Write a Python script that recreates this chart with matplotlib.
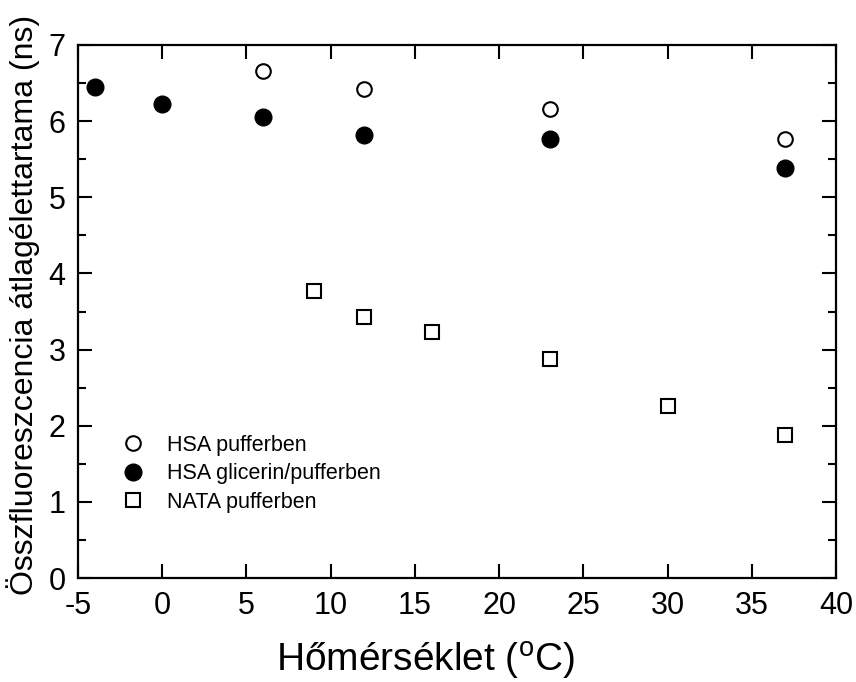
import matplotlib
matplotlib.use('Agg')
import matplotlib.pyplot as plt
from matplotlib.ticker import MultipleLocator

plt.rcParams['font.family'] = ['Liberation Sans', 'DejaVu Sans']
plt.rcParams['mathtext.fontset'] = 'custom'
plt.rcParams['mathtext.rm'] = 'Liberation Sans'
plt.rcParams['axes.unicode_minus'] = False

# HSA pufferben (open circles)
hsa_t = [6, 12, 23, 37]
hsa_tau = [6.66, 6.42, 6.16, 5.76]

# HSA glicerin/pufferben (filled circles)
hsag_t = [-4, 0, 6, 12, 23, 37]
hsag_tau = [6.45, 6.22, 6.05, 5.82, 5.76, 5.39]

# NATA pufferben (open squares)
nata_t = [9, 12, 16, 23, 30, 37]
nata_tau = [3.77, 3.43, 3.23, 2.87, 2.26, 1.88]

fig = plt.figure(figsize=(8.56, 6.82), dpi=100)
ax = fig.add_axes([78/856, 1 - 578/682, (836-78)/856, (578-45)/682])

ax.plot(hsa_t, hsa_tau, 'o', ms=10.5, mfc='white', mec='black', mew=1.5, ls='none', label='HSA pufferben')
ax.plot(hsag_t, hsag_tau, 'o', ms=12, mfc='black', mec='black', ls='none', label='HSA glicerin/pufferben')
ax.plot(nata_t, nata_tau, 's', ms=10, mfc='white', mec='black', mew=1.5, ls='none', label='NATA pufferben')

ax.set_xlim(-5, 40)
ax.set_ylim(0, 7)
ax.xaxis.set_major_locator(MultipleLocator(5))
ax.xaxis.set_minor_locator(MultipleLocator(5))
ax.yaxis.set_major_locator(MultipleLocator(1))
ax.yaxis.set_minor_locator(MultipleLocator(0.5))
ax.tick_params(which='both', direction='in', top=True, right=True, width=1.5, labelsize=22, pad=9)
ax.tick_params(which='major', length=10)
ax.tick_params(which='minor', length=6)
for s in ax.spines.values():
    s.set_linewidth(1.6)

ax.set_xlabel(r'Hőmérséklet ($\mathregular{^{o}}$C)', fontsize=28, labelpad=14, x=0.459)
ax.set_ylabel('Összfluoreszcencia átlagélettartama (ns)', fontsize=23, labelpad=6, y=0.513)

ax.legend(loc='lower left', bbox_to_anchor=(0.038, 0.106), frameon=False, fontsize=15.5,
          handletextpad=0.8, labelspacing=0.35, borderaxespad=0, handlelength=1.6)

fig.savefig('out.png', dpi=100)
